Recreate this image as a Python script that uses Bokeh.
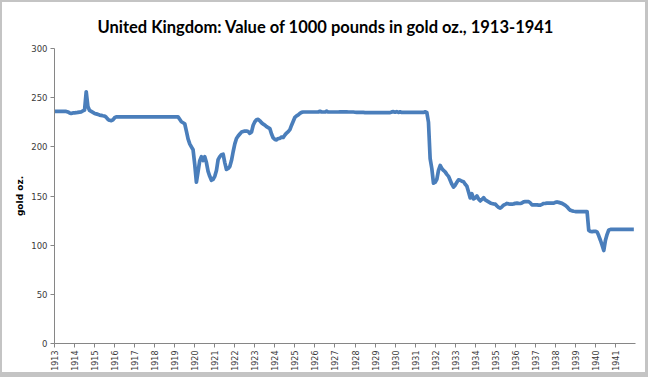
import math
from bokeh.plotting import figure
from bokeh.models import FixedTicker, Range1d
from bokeh.embed import file_html
from bokeh.resources import INLINE

# ---- data -------------------------------------------------------------
years = list(range(1913, 1942))            # category (year) tick labels
months_per_year = 12

# monthly values, gold oz. per 1000 pounds, 12 per year
gold_oz = [
    236, 236, 236, 236, 236, 236, 236, 236, 235.5, 234.5, 234, 234.5,          # 1913
    234.5, 234.7, 235, 235.3, 235.6, 236.5, 237.3, 256, 241, 237, 236, 235,     # 1914
    234, 233.5, 233, 232.3, 232, 231.6, 231.3, 230, 228, 227, 226.6, 227.5,     # 1915
    229.6, 230.5, 230.5, 230.5, 230.5, 230.5, 230.5, 230.5, 230.5, 230.5, 230.5, 230.5,  # 1916
    230.5, 230.5, 230.5, 230.5, 230.5, 230.5, 230.5, 230.5, 230.5, 230.5, 230.5, 230.5,  # 1917
    230.5, 230.5, 230.5, 230.5, 230.5, 230.5, 230.5, 230.5, 230.5, 230.5, 230.5, 230.5,  # 1918
    230.5, 230.5, 230.5, 228, 225.5, 224.5, 223.5, 216, 208, 203, 200, 197,    # 1919
    182, 164, 175, 186, 190, 186, 190, 184, 175, 170, 166, 167,                # 1920
    170, 176, 187, 190, 192, 192.5, 184, 177, 178, 180, 186, 195,              # 1921
    203, 208.5, 211, 213, 215, 215.5, 216, 216, 215.5, 213.7, 215, 222,        # 1922
    225.5, 227.5, 228, 226.5, 224.5, 223, 222, 220.5, 219.5, 218.5, 213, 209,  # 1923
    207.5, 207, 208.5, 208.6, 210, 209.5, 212, 214, 215.5, 217.5, 222, 226,    # 1924
    230, 231.5, 232.5, 234, 235, 235.4, 235.4, 235.4, 235.4, 235.4, 235.4, 235.4,  # 1925
    235.4, 235.4, 235.4, 236.2, 235.4, 235.4, 235.4, 236.3, 235.4, 235.4, 235.4, 235.4,  # 1926
    235.4, 235.4, 235.4, 235.6, 235.6, 235.6, 235.6, 235.6, 235.4, 235.4, 235.4, 235.4,  # 1927
    235.2, 235, 235, 235, 235, 235, 234.8, 234.8, 234.8, 234.8, 234.8, 234.8,  # 1928
    234.8, 234.8, 234.8, 234.8, 234.8, 234.8, 234.8, 234.8, 234.8, 234.8, 235.5, 235.8,  # 1929
    235.2, 235.8, 235, 235.6, 235, 235, 235, 235, 235, 235, 235, 235,          # 1930
    235, 235, 235, 235, 235, 235, 235.6, 235, 225, 188, 178, 163,              # 1931
    164, 167, 176, 181, 178, 176, 174.5, 172, 170, 166, 162, 159,              # 1932
    161, 164, 166.5, 166, 165, 164.5, 162, 160, 154, 148, 152.3, 147,          # 1933
    148, 150, 147, 145, 146.5, 148.3, 146, 145, 144, 143, 142.4, 142,          # 1934
    141.7, 140, 138.5, 137.6, 139, 140.7, 141.5, 142.4, 142, 141.7, 141.7, 142,  # 1935
    142.5, 142.7, 142.5, 142.4, 143, 144, 144.3, 144.3, 144.3, 143, 141, 141,  # 1936
    141, 141, 140.7, 140.7, 141.5, 142.4, 142.5, 142.7, 142.7, 142.7, 142.7, 142.7,  # 1937
    143.5, 144, 143.5, 143, 142.5, 141.5, 140.5, 139, 137, 135.5, 134.9, 134.5,  # 1938
    134.2, 134.2, 134.2, 134.2, 134.2, 134.2, 134.2, 134.2, 115, 114, 113.8, 114,  # 1939
    114.1, 113.5, 109.5, 105, 100, 94.5, 105, 111, 115.5, 116, 116, 116,       # 1940
    116, 116, 116, 116, 116, 116, 116, 116, 116, 116, 116, 116,                # 1941
]
y_ticks = [0, 50, 100, 150, 200, 250, 300]

# ---- x positions derived from the (year, month) structure ---------------
xs = [years[0] + i / months_per_year for i in range(len(gold_oz))]

AXIS = "#868686"
TEXT = "#3a3a3a"

p = figure(
    width=648, height=377,
    output_backend="svg", toolbar_location=None,
    x_range=Range1d(years[0], years[-1] + 1),
    y_range=Range1d(y_ticks[0], y_ticks[-1]),
    min_border_left=52, min_border_right=15, min_border_top=46, min_border_bottom=36,
    title="United Kingdom: Value of 1000 pounds in gold oz., 1913-1941",
)
p.styles = {"border-style": "solid", "border-color": "#c4c4c4",
            "border-width": "2px 3px 5px 2px"}
p.title.text_font = "Lato"
p.title.text_font_size = "16.5px"
p.title.text_font_style = "bold"
p.title.text_color = "#000000"
p.title.align = "left"
p.title.offset = 43
p.title.standoff = 24

p.line(xs, gold_oz, line_color="#4a7ebb", line_width=3.7, line_join="round")

p.outline_line_color = None
p.xgrid.visible = False
p.ygrid.visible = False
p.background_fill_color = "white"
p.border_fill_color = "white"

for ax in (p.xaxis[0], p.yaxis[0]):
    ax.axis_line_color = AXIS
    ax.major_tick_line_color = AXIS
    ax.minor_tick_line_color = None
    ax.major_tick_in = 0
    ax.major_tick_out = 4
    ax.major_label_text_color = TEXT
    ax.major_label_text_font = "DejaVu Sans"

p.xaxis.ticker = FixedTicker(ticks=years)
p.xaxis.major_label_orientation = math.pi / 2
p.xaxis.major_label_text_font_size = "8px"
p.xaxis.major_label_standoff = 3

p.yaxis.ticker = FixedTicker(ticks=y_ticks)
p.yaxis.major_label_text_font_size = "8.5px"
p.yaxis.major_label_standoff = 3
p.yaxis.axis_label = "gold oz."
p.yaxis.axis_label_text_font = "DejaVu Sans"
p.yaxis.axis_label_text_font_size = "9px"
p.yaxis.axis_label_text_font_style = "bold"
p.yaxis.axis_label_text_color = "#000000"
p.yaxis.axis_label_standoff = 3

open("out.html", "w").write(file_html(p, INLINE))
